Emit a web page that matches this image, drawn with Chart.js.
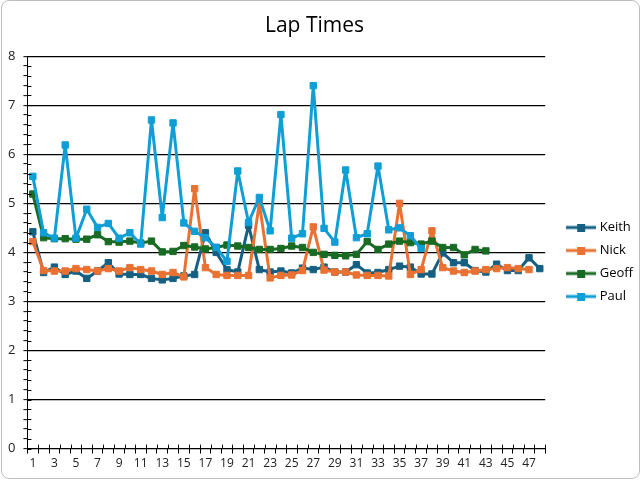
<!DOCTYPE html>
<html>
<head>
<meta charset="utf-8">
<script src="https://cdn.jsdelivr.net/npm/chart.js@4.4.1/dist/chart.umd.min.js"></script>
<style>
    html, body { margin: 0; padding: 0; background: #fff; }
    #wrap { position: relative; width: 641px; height: 481px; }
    #frame {
        position: absolute; left: 1px; top: 0; width: 637px; height: 477px;
        border: 1px solid #bfbfbf; border-radius: 8px; pointer-events: none;
    }
</style>
</head>
<body>
<div id="wrap">
    <canvas id="lapChart" width="641" height="481"></canvas>
    <div id="frame"></div>
</div>
<script>
const laps = Array.from({ length: 48 }, (_, i) => String(i + 1));

const keith = [4.42, 3.59, 3.70, 3.55, 3.62, 3.47, 3.62, 3.79, 3.56, 3.55, 3.55, 3.47, 3.44, 3.47, 3.52, 3.55,
    4.40, 4.00, 3.65, 3.60, 4.55, 3.65, 3.60, 3.62, 3.58, 3.68, 3.65, 3.70, 3.60, 3.60, 3.75, 3.58,
    3.59, 3.65, 3.72, 3.70, 3.56, 3.56, 3.99, 3.79, 3.79, 3.63, 3.60, 3.76, 3.63, 3.63, 3.89, 3.67];
const nick = [4.22, 3.63, 3.62, 3.62, 3.67, 3.65, 3.62, 3.67, 3.62, 3.69, 3.65, 3.62, 3.55, 3.59, 3.50, 5.30,
    3.69, 3.55, 3.53, 3.53, 3.53, 5.00, 3.48, 3.53, 3.54, 3.63, 4.52, 3.64, 3.60, 3.60, 3.54, 3.53,
    3.53, 3.52, 5.00, 3.55, 3.65, 4.44, 3.69, 3.62, 3.59, 3.62, 3.65, 3.67, 3.69, 3.67, 3.65];
const geoff = [5.19, 4.30, 4.28, 4.28, 4.27, 4.27, 4.36, 4.22, 4.21, 4.23, 4.19, 4.23, 4.01, 4.02, 4.14, 4.11,
    4.07, 4.10, 4.15, 4.13, 4.10, 4.06, 4.06, 4.08, 4.13, 4.10, 4.00, 3.96, 3.94, 3.93, 3.96, 4.22,
    4.06, 4.17, 4.23, 4.20, 4.17, 4.23, 4.10, 4.10, 3.95, 4.06, 4.03];
const paul = [5.55, 4.40, 4.29, 6.19, 4.29, 4.88, 4.51, 4.59, 4.29, 4.40, 4.17, 6.70, 4.71, 6.64, 4.60, 4.43,
    4.30, 4.10, 3.82, 5.66, 4.61, 5.12, 4.44, 6.81, 4.29, 4.38, 7.40, 4.49, 4.21, 5.68, 4.30, 4.38,
    5.76, 4.46, 4.50, 4.34, 4.08];

const seriesNames = ['Keith', 'Nick', 'Geoff', 'Paul'];
const seriesData = [keith, nick, geoff, paul];
const seriesColors = ['#156082', '#E97132', '#196B24', '#0F9ED5'];

const FONT = "'Open Sans', 'Liberation Sans', sans-serif";

// legend icon: line with a square marker in the middle, like Excel
function legendIcon(color) {
    const c = document.createElement('canvas');
    c.width = 30;
    c.height = 8;
    const g = c.getContext('2d');
    g.strokeStyle = color;
    g.lineWidth = 3;
    g.beginPath();
    g.moveTo(0, 4);
    g.lineTo(30, 4);
    g.stroke();
    g.fillStyle = color;
    g.fillRect(11, 0, 8, 8);
    return c;
}
const icons = seriesColors.map(legendIcon);

const isWhole = (v) => Math.abs(v - Math.round(v)) < 1e-6;

// short tick marks on the inner side of both axes
const innerTicks = {
    id: 'innerTicks',
    afterDraw(chart) {
        const { ctx, scales: { x, y } } = chart;
        ctx.save();
        ctx.strokeStyle = '#000';
        ctx.lineWidth = 1;
        ctx.beginPath();
        y.ticks.forEach((t) => {
            const py = Math.round(y.getPixelForValue(t.value)) + 0.5;
            ctx.moveTo(x.left, py);
            ctx.lineTo(x.left + 4, py);
        });
        const step = x.getPixelForTick(1) - x.getPixelForTick(0);
        for (let i = 0; i <= x.ticks.length; i++) {
            const px = Math.round(x.getPixelForTick(0) + (i - 0.5) * step) + 0.5;
            ctx.moveTo(px, y.bottom);
            ctx.lineTo(px, y.bottom - 4);
        }
        ctx.stroke();
        ctx.restore();
    },
};

// nudge the legend block to where Excel puts it
const legendShift = {
    id: 'legendShift',
    afterLayout(chart) {
        const l = chart.legend;
        if (!l) return;
        l.left += 14;
        l.right += 14;
        l.top += 25;
        l.bottom += 25;
    },
};

new Chart(document.getElementById('lapChart').getContext('2d'), {
    type: 'line',
    data: {
        labels: laps,
        datasets: seriesNames.map((name, i) => ({
            label: name,
            data: seriesData[i],
            borderColor: seriesColors[i],
            backgroundColor: seriesColors[i],
            pointBackgroundColor: seriesColors[i],
            pointBorderColor: seriesColors[i],
            pointStyle: 'rect',
            pointRadius: 4.5,
            pointBorderWidth: 1,
            borderWidth: 3,
            borderJoinStyle: 'round',
            borderCapStyle: 'round',
            tension: 0,
            order: seriesNames.length - i,
        })),
    },
    options: {
        responsive: false,
        animation: false,
        layout: {
            padding: { left: 0, right: 12, top: 0, bottom: 7 },
        },
        plugins: {
            title: {
                display: true,
                text: 'Lap Times',
                color: '#000',
                font: { family: FONT, size: 21, weight: 'normal' },
                padding: { top: 13, bottom: 18 },
            },
            legend: {
                position: 'right',
                labels: {
                    usePointStyle: true,
                    pointStyleWidth: 24,
                    padding: 10,
                    color: '#000',
                    font: { family: FONT, size: 13 },
                    sort: (a, b) => a.datasetIndex - b.datasetIndex,
                    generateLabels: (chart) => Chart.defaults.plugins.legend.labels.generateLabels(chart)
                        .map((item) => ({ ...item, pointStyle: icons[item.datasetIndex] })),
                },
            },
            tooltip: { enabled: false },
        },
        scales: {
            x: {
                offset: true,
                grid: {
                    offset: true,
                    drawOnChartArea: false,
                    tickLength: 5,
                    tickColor: '#000',
                },
                border: { color: '#000', width: 1 },
                ticks: {
                    autoSkip: false,
                    maxRotation: 0,
                    padding: 3,
                    color: '#222',
                    font: { family: FONT, size: 12 },
                    callback: (v, i) => (i % 2 === 0 ? laps[i] : ''),
                },
            },
            y: {
                min: 0,
                max: 8,
                grid: {
                    color: (c) => (isWhole(c.tick.value) ? '#000' : 'rgba(0,0,0,0)'),
                    lineWidth: 1.3,
                    tickLength: 4,
                    tickColor: '#000',
                    tickWidth: 1,
                },
                border: { color: '#000', width: 1 },
                ticks: {
                    stepSize: 0.2,
                    autoSkip: false,
                    padding: 8,
                    color: '#222',
                    font: { family: FONT, size: 13 },
                    callback: (v) => (isWhole(v) ? String(Math.round(v)) : ''),
                },
            },
        },
    },
    plugins: [innerTicks, legendShift],
});
</script>
</body>
</html>
